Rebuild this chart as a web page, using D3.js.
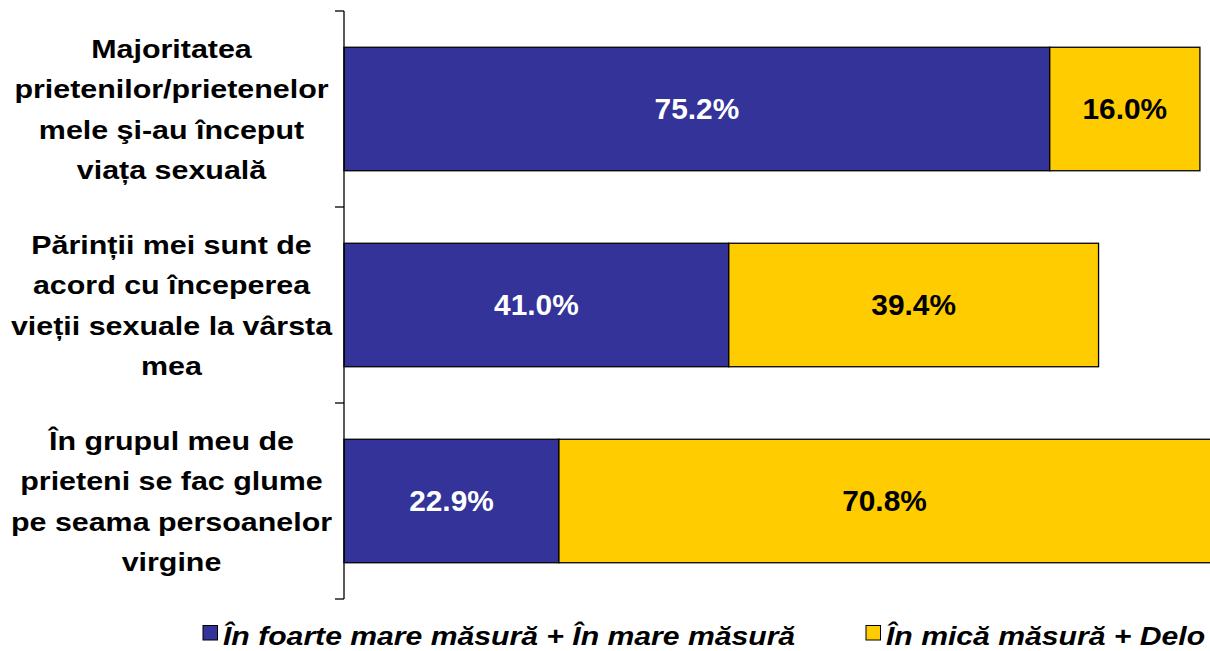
<!DOCTYPE html>
<html>
<head>
<meta charset="utf-8">
<script src="https://cdn.jsdelivr.net/npm/d3@7"></script>
<style>
  html, body { margin: 0; padding: 0; background: #fff; }
  svg { display: block; }
</style>
</head>
<body>
<svg id="chart" width="1210" height="651"></svg>
<script>
const categories = [
  "Majoritatea\nprietenilor/prietenelor\nmele şi-au început\nviața sexuală",
  "Părinții mei sunt de\nacord cu începerea\nvieții sexuale la vârsta\nmea",
  "În grupul meu de\nprieteni se fac glume\npe seama persoanelor\nvirgine"
];
const seriesNames = ["În foarte mare măsură + În mare măsură", "În mică măsură + Delo"];
const seriesHigh = [75.2, 41.0, 22.9];
const seriesLow = [16.0, 39.4, 70.8];
const colors = ["#333399", "#FFCC00"];
const labelColors = ["#FFFFFF", "#000000"];

const FONT = "'Liberation Sans', Arial, sans-serif";
const svg = d3.select("#chart");
const x = d3.scaleLinear().domain([0, 100]).range([344, 1282.5]);
const y = d3.scaleBand().domain(categories).range([11, 599]).paddingInner(0.37).paddingOuter(0.185);

const stackData = categories.map((c, i) => ({ cat: c, s0: seriesHigh[i], s1: seriesLow[i] }));
const stack = d3.stack().keys(["s0", "s1"])(stackData);

const layers = svg.append("g").selectAll("g").data(stack).join("g")
  .attr("fill", (d, i) => colors[i]);

layers.selectAll("rect").data(d => d).join("rect")
  .attr("x", d => x(d[0]))
  .attr("y", d => y(d.data.cat))
  .attr("width", d => x(d[1]) - x(d[0]))
  .attr("height", y.bandwidth())
  .attr("stroke", "#000")
  .attr("stroke-width", 1.3);

layers.each(function(layer, li) {
  d3.select(this).selectAll("text").data(layer).join("text")
    .attr("transform", d => `translate(${(x(d[0]) + Math.min(x(d[1]), 1210)) / 2},${y(d.data.cat) + y.bandwidth() / 2}) scale(1.03,1)`)
    .attr("dy", "0.36em")
    .attr("text-anchor", "middle")
    .attr("font-family", FONT)
    .attr("font-weight", "bold")
    .attr("font-size", 29)
    .attr("fill", labelColors[li])
    .text(d => (d[1] - d[0]).toFixed(1) + "%");
});

// Axis
const step = y.step();
const boundaries = [0, 1, 2, 3].map(i => 11 + i * step);
svg.append("line")
  .attr("x1", 344).attr("x2", 344)
  .attr("y1", boundaries[0]).attr("y2", boundaries[3])
  .attr("stroke", "#000").attr("stroke-width", 1.3);
svg.selectAll(".tick").data(boundaries).join("line")
  .attr("x1", 335).attr("x2", 344)
  .attr("y1", d => d).attr("y2", d => d)
  .attr("stroke", "#000").attr("stroke-width", 1.3);

// Category labels
categories.forEach(c => {
  const lines = c.split("\n");
  const cy = y(c) + y.bandwidth() / 2;
  const lh = 40.3;
  lines.forEach((ln, k) => {
    svg.append("text")
      .attr("transform", `translate(171.5,${cy + (k - (lines.length - 1) / 2) * lh}) scale(1.17,1)`)
      .attr("dy", "0.36em")
      .attr("text-anchor", "middle")
      .attr("font-family", FONT)
      .attr("font-weight", "bold")
      .attr("font-size", 26)
      .attr("fill", "#000")
      .text(ln);
  });
});

// Legend
const legendX = [203, 866];
seriesNames.forEach((n, i) => {
  svg.append("rect")
    .attr("x", legendX[i]).attr("y", 625.5)
    .attr("width", 14.5).attr("height", 14.5)
    .attr("fill", colors[i]).attr("stroke", "#000").attr("stroke-width", 1);
  svg.append("text")
    .attr("transform", `translate(${legendX[i] + 20},645) scale(1.16,1)`)
    .attr("font-family", FONT)
    .attr("font-weight", "bold")
    .attr("font-style", "italic")
    .attr("font-size", 26)
    .attr("fill", "#000")
    .text(n);
});
</script>
</body>
</html>
